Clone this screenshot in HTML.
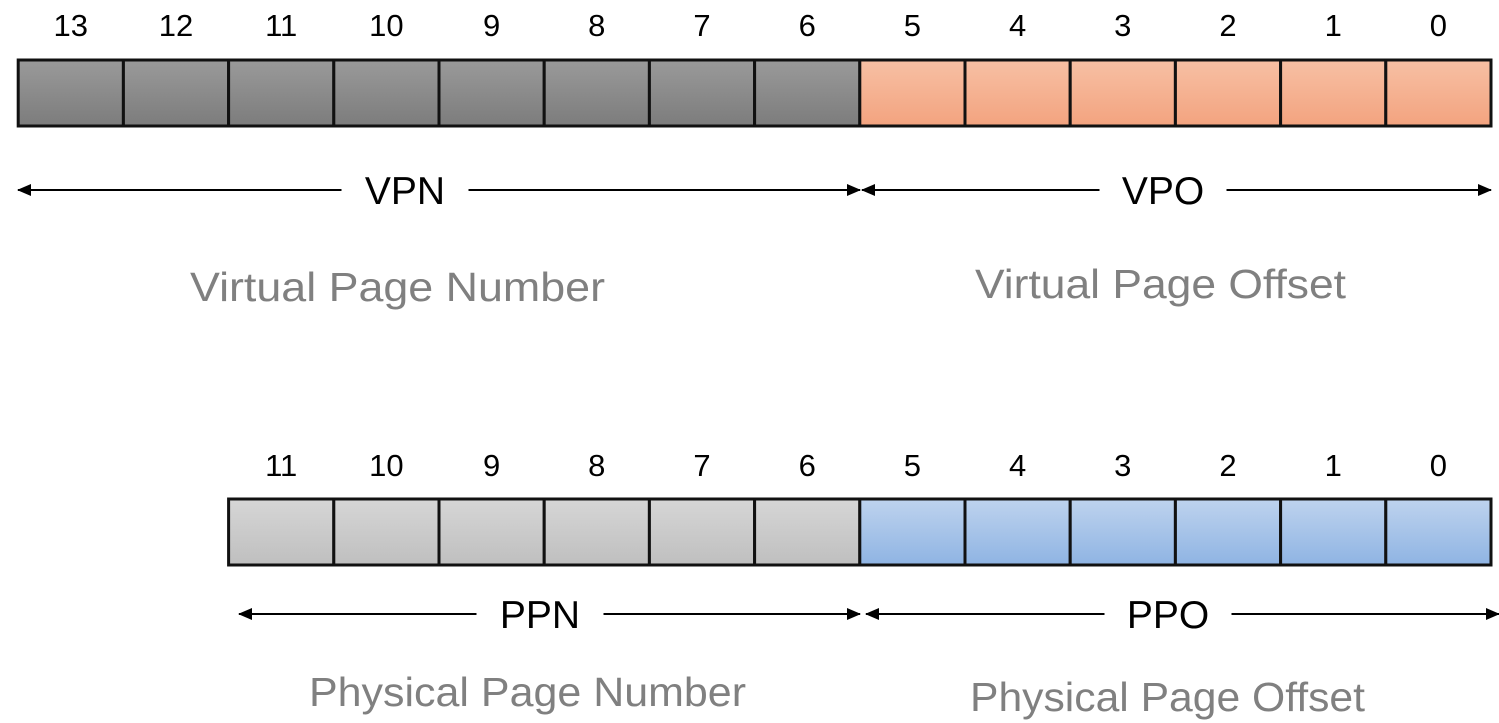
<!DOCTYPE html>
<html><head><meta charset="utf-8"><style>
html,body{margin:0;padding:0;background:#fff;}
svg{display:block;font-family:"Liberation Sans","DejaVu Sans",sans-serif;}
</style></head><body>
<svg id="s" width="1499" height="723" viewBox="0 0 1499 723">
<defs>
<linearGradient id="gDark" x1="0" y1="0" x2="0" y2="1"><stop offset="0" stop-color="#9a9a9a"/><stop offset="1" stop-color="#7c7c7c"/></linearGradient>
<linearGradient id="gOrange" x1="0" y1="0" x2="0" y2="1"><stop offset="0" stop-color="#f7c0a4"/><stop offset="1" stop-color="#f3a37f"/></linearGradient>
<linearGradient id="gLight" x1="0" y1="0" x2="0" y2="1"><stop offset="0" stop-color="#d6d6d6"/><stop offset="1" stop-color="#bfbfbf"/></linearGradient>
<linearGradient id="gBlue" x1="0" y1="0" x2="0" y2="1"><stop offset="0" stop-color="#bed3ee"/><stop offset="1" stop-color="#8fb4e3"/></linearGradient>
<marker id="ah" markerWidth="14" markerHeight="14" refX="13" refY="7" orient="auto-start-reverse" markerUnits="userSpaceOnUse"><path d="M0,1 L14,7 L0,13 Z" fill="#000"/></marker>
</defs>
</svg>
<script>
const virtualBits = [13,12,11,10,9,8,7,6,5,4,3,2,1,0];
const physicalBits = [11,10,9,8,7,6,5,4,3,2,1,0];
const offsetBits = 6;
const NS="http://www.w3.org/2000/svg";
const svg=document.getElementById('s');
const cellW=105.2, rightEdge=1491;
function mk(tag,attrs,parent){const e=document.createElementNS(NS,tag);for(const k in attrs)e.setAttribute(k,attrs[k]);(parent||svg).appendChild(e);return e;}
function row(bits,y,h,labelY,hiFill,loFill,prefix){
  const g=mk('g',{});
  
  
  const n=bits.length;
  bits.forEach((b,i)=>{
    const x=rightEdge-(n-i)*cellW;
    const r=mk('rect',{x:x,y:y,width:cellW,height:h,fill:b>=offsetBits?hiFill:loFill,stroke:'#111','stroke-width':3},g);
    
    
    const t=mk('text',{x:x+cellW/2,y:labelY,'text-anchor':'middle','font-size':31,fill:'#000'},g);
    t.textContent=b;
    
    
  });
}
function arrow(x1,x2,y,label,cx,name){
  const tw=label.length*29;
  const l1=mk('line',{x1:cx-tw/2-20,y1:y,x2:x1,y2:y,stroke:'#000','stroke-width':2,'marker-end':'url(#ah)'});
  
  
  const l2=mk('line',{x1:cx+tw/2+20,y1:y,x2:x2,y2:y,stroke:'#000','stroke-width':2,'marker-end':'url(#ah)'});
  
  
  const t=mk('text',{x:cx,y:y+14,'text-anchor':'middle','font-size':39,fill:'#000'});
  t.textContent=label;
  
  
}
function caption(txt,x1,x2,y,name){
  const t=mk('text',{x:x1,y:y,'font-size':41,fill:'#808080',textLength:x2-x1,lengthAdjust:'spacingAndGlyphs'});
  t.textContent=txt;
  
  
}
row(virtualBits,60,66,36,'url(#gDark)','url(#gOrange)','virtual');
row(physicalBits,499,66,476,'url(#gLight)','url(#gBlue)','physical');
arrow(18,860,190,'VPN',405,'vpn');
arrow(862,1491,190,'VPO',1163,'vpo');
arrow(239,860,614,'PPN',540,'ppn');
arrow(866,1499,614,'PPO',1168,'ppo');
caption('Virtual Page Number',190,605,301,'virtual-page-number-caption');
caption('Virtual Page Offset',975,1346,298,'virtual-page-offset-caption');
caption('Physical Page Number',309,746,706,'physical-page-number-caption');
caption('Physical Page Offset',970,1365,711,'physical-page-offset-caption');
</script>
</body></html>
